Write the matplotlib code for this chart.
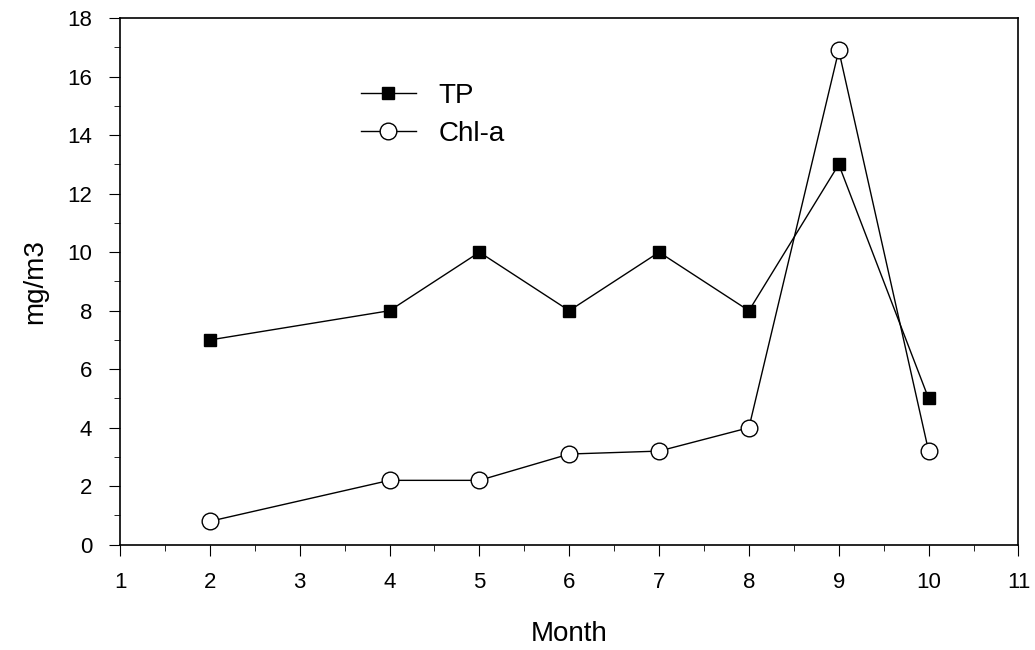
import matplotlib.pyplot as plt
from matplotlib.ticker import MultipleLocator

plt.rcParams['font.family'] = ['Liberation Sans', 'DejaVu Sans']

# monthly values
month = [2, 4, 5, 6, 7, 8, 9, 10]
tp = [7, 8, 10, 8, 10, 8, 13, 5]
chla = [0.8, 2.2, 2.2, 3.1, 3.2, 4.0, 16.9, 3.2]

fig = plt.figure(figsize=(10.35, 6.5), dpi=100)
ax = fig.add_axes([0.116, 0.162, 0.868, 0.810])

ax.plot(month, tp, '-s', color='black', lw=1, ms=9, mfc='black', label='TP')
ax.plot(month, chla, '-o', color='black', lw=1, ms=12, mfc='white', mew=1, label='Chl-a')

ax.set_xlim(1, 11)
ax.set_ylim(0, 18)
ax.xaxis.set_major_locator(MultipleLocator(1))
ax.xaxis.set_minor_locator(MultipleLocator(0.5))
ax.yaxis.set_major_locator(MultipleLocator(2))
ax.yaxis.set_minor_locator(MultipleLocator(1))
ax.tick_params(which='both', direction='out', top=False, right=False, labelsize=16)
ax.tick_params(which='major', length=8, pad=12)
ax.tick_params(which='minor', length=4)
for s in ax.spines.values():
    s.set_linewidth(1.2)

ax.set_xlabel('Month', fontsize=20, labelpad=20)
ax.set_ylabel('mg/m3', fontsize=20, labelpad=14)

ax.legend(loc='upper left', bbox_to_anchor=(0.24, 0.925), frameon=False,
          fontsize=20, handlelength=2.0, labelspacing=0.45, handletextpad=0.8)

fig.savefig('out.png', dpi=100)
